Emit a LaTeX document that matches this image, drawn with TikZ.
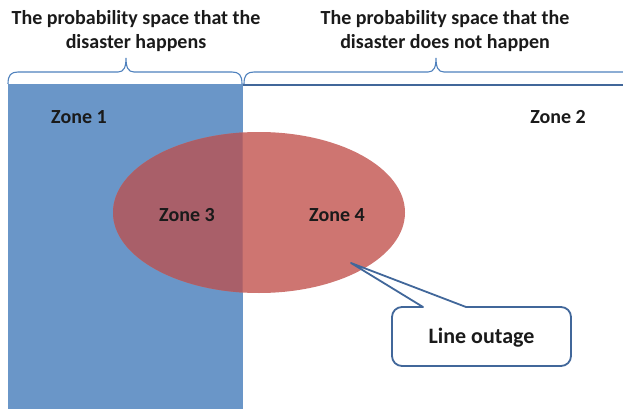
\documentclass[tikz,border=0pt]{standalone}
\usepackage{fontspec}
\setmainfont{Carlito}
\definecolor{zoneblue}{HTML}{6A96C8}
\definecolor{linedark}{HTML}{41679A}
\definecolor{bracecol}{HTML}{4F81BD}
\definecolor{ellred}{HTML}{CE7571}
\definecolor{overlapcol}{HTML}{A95F69}
\definecolor{txt}{HTML}{1A1A1A}
\begin{document}
\begin{tikzpicture}[x=1pt,y=-1pt,
  lbl/.style={anchor=base,inner sep=0pt,text=txt,font=\fontsize{20}{24}\selectfont\bfseries},
  bigl/.style={anchor=base,inner sep=0pt,text=txt,font=\fontsize{22}{26}\selectfont\bfseries},
  bracep/.style={draw=bracecol,line width=1.1pt},
  calloutp/.style={draw=linedark,line width=1.8pt,fill=white,line join=round}]
\useasboundingbox (0,0) rectangle (623,409);
\clip (0,0) rectangle (623,409);
% zone 1 area
\fill[zoneblue] (8,84) rectangle (242.5,409);
% ellipse
\fill[ellred] (259,212.5) ellipse[x radius=146,y radius=80.5];
\begin{scope}
  \clip (8,84) rectangle (242.5,409);
  \fill[overlapcol] (259,212.5) ellipse[x radius=146,y radius=80.5];
\end{scope}
% top line of right area
\draw[linedark,line width=2pt] (242.5,85) -- (623,85);
% braces
\draw[bracep] (8,84) .. controls (8,75) and (11,72) .. (18,72) -- (118,72)
  .. controls (124,72) and (126,67) .. (126,58)
  .. controls (126,67) and (128,72) .. (134,72) -- (232,72)
  .. controls (239,72) and (242,75) .. (242,84);
\draw[bracep] (244,84) .. controls (244,75) and (247,72) .. (254,72) -- (428,72)
  .. controls (434,72) and (436,67) .. (436,58)
  .. controls (436,67) and (438,72) .. (444,72) -- (630,72);
% titles
\node[lbl] (t1a) at (136,25) {The probability space that the};
\node[lbl] (t1b) at (136,49) {disaster happens};
\node[lbl] (t2a) at (445,25) {The probability space that the};
\node[lbl] (t2b) at (445,49) {disaster does not happen};
% zones
\node[lbl] (z1) at (79,124) {Zone 1};
\node[lbl] (z2) at (558,124) {Zone 2};
\node[lbl] (z3) at (187,221) {Zone 3};
\node[lbl] (z4) at (337,221) {Zone 4};
% callout
\coordinate (tip) at (351,263);
\draw[calloutp] (423,307) -- (tip) -- (466,307) -- (561,307)
  arc[start angle=-90,end angle=0,radius=10] -- (571,356)
  arc[start angle=0,end angle=90,radius=10] -- (402,366)
  arc[start angle=90,end angle=180,radius=10] -- (392,317)
  arc[start angle=180,end angle=270,radius=10] -- cycle;
\node[bigl] (outage) at (481.5,343) {Line outage};
\end{tikzpicture}
\end{document}
